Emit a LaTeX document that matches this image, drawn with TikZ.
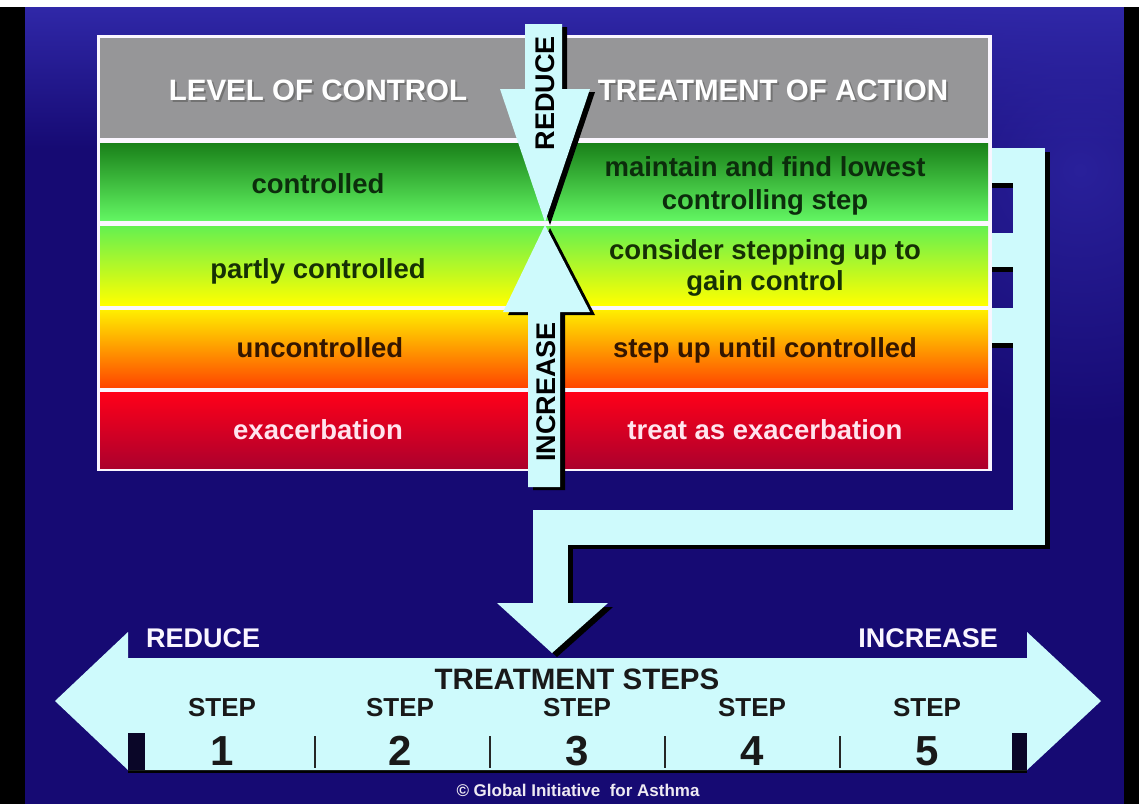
\documentclass[tikz,border=0pt]{standalone}
\usepackage{fontspec}
\usetikzlibrary{fadings}
\setmainfont{Liberation Sans}
\tikzfading[name=glowfade, inner color=transparent!25, outer color=transparent!100]
\begin{document}
\definecolor{navy}{RGB}{22,10,115}
\definecolor{navylight}{RGB}{48,40,168}
\definecolor{pale}{RGB}{206,250,252}
\definecolor{headgrey}{RGB}{150,150,152}
\definecolor{framewhite}{RGB}{250,246,255}
\definecolor{gTop}{RGB}{25,128,25}
\definecolor{gBot}{RGB}{98,245,98}
\definecolor{lTop}{RGB}{100,240,80}
\definecolor{lBot}{RGB}{255,255,0}
\definecolor{oTop}{RGB}{255,238,0}
\definecolor{oBot}{RGB}{255,70,0}
\definecolor{rTop}{RGB}{255,0,25}
\definecolor{rBot}{RGB}{172,0,45}
\definecolor{txtgreen}{RGB}{12,45,12}
\definecolor{txtolive}{RGB}{22,48,5}
\definecolor{txtbrown}{RGB}{52,22,0}
\definecolor{txtpink}{RGB}{255,228,238}
\definecolor{scalebar}{RGB}{10,6,40}
\begin{tikzpicture}[x=1pt,y=-1pt,
  rowtext/.style={font=\bfseries\fontsize{27.5}{31}\selectfont, anchor=base, inner sep=0pt},
  headtext/.style={font=\bfseries\fontsize{29.5}{32}\selectfont, anchor=base, inner sep=0pt},
  sidetext/.style={font=\bfseries\fontsize{27}{30}\selectfont, text=black, rotate=90, inner sep=0pt},
  steptext/.style={font=\bfseries\fontsize{26}{30}\selectfont, text=black!90, anchor=base, inner sep=0pt},
  numtext/.style={font=\bfseries\fontsize{42}{46}\selectfont, text=black!90, anchor=base, inner sep=0pt},
  labeltext/.style={font=\bfseries\fontsize{27}{30}\selectfont, text=framewhite, inner sep=0pt},
  paleshape/.style={fill=pale},
  shadowshape/.style={fill=black},
  divider/.style={draw=black!85, line width=2pt}]
\useasboundingbox (0,0) rectangle (1139,804);

% backdrop: navy with a lighter glow at the top and top right
\fill[navy] (0,0) rectangle (1139,804);
\begin{scope}
  \clip (0,7) rectangle (1139,804);
  \fill[navylight, path fading=glowfade] (1080,170) circle (260);
\end{scope}
\fill[navylight, path fading=south] (0,7) rectangle (1139,150);
\fill[white] (0,0) rectangle (1139,7);
\fill[black] (0,7) rectangle (25,804);
\fill[black] (1124,7) rectangle (1139,804);

% table frame and rows
\fill[framewhite] (97,35) rectangle (992,471);
\fill[headgrey] (100,38) rectangle (988,138);
\shade[top color=gTop, bottom color=gBot] (100,143) rectangle (988,220);
\shade[top color=lTop, bottom color=lBot] (100,226) rectangle (988,305);
\shade[top color=oTop, bottom color=oBot] (100,310) rectangle (988,387);
\shade[top color=rTop, bottom color=rBot] (100,392) rectangle (988,468);

% header captions with drop shadow
\node[headtext, text=black!55] at (320,102) {LEVEL OF CONTROL};
\node[headtext, text=white] (hl) at (318,100) {LEVEL OF CONTROL};
\node[headtext, text=black!55] at (775,102) {TREATMENT OF ACTION};
\node[headtext, text=white] (hr) at (773,100) {TREATMENT OF ACTION};

% level of control column
\node[rowtext, text=txtgreen] (c1) at (318,193) {controlled};
\node[rowtext, text=txtolive] (c2) at (318,278) {partly controlled};
\node[rowtext, text=txtbrown] (c3) at (320,357) {uncontrolled};
\node[rowtext, text=txtpink] (c4) at (318,439) {exacerbation};

% treatment column
\node[rowtext, text=txtgreen] (t1a) at (765,176) {maintain and find lowest};
\node[rowtext, text=txtgreen] (t1b) at (765,209) {controlling step};
\node[rowtext, text=txtolive] (t2a) at (765,259) {consider stepping up to};
\node[rowtext, text=txtolive] (t2b) at (765,290) {gain control};
\node[rowtext, text=txtbrown] (t3) at (765,357) {step up until controlled};
\node[rowtext, text=txtpink] (t4) at (765,439) {treat as exacerbation};

% central reduce / increase arrows
\begin{scope}[shift={(5,3)}]
  \fill[shadowshape] (525,24) -- (562,24) -- (562,89) -- (590,89) -- (545,222) -- (500,89) -- (525,89) -- cycle;
  \fill[shadowshape] (545,225) -- (590,312) -- (560,312) -- (560,487) -- (528,487) -- (528,312) -- (503,312) -- cycle;
\end{scope}
\fill[paleshape] (525,24) -- (562,24) -- (562,89) -- (590,89) -- (545,222) -- (500,89) -- (525,89) -- cycle;
\fill[paleshape] (545,225) -- (590,312) -- (560,312) -- (560,487) -- (528,487) -- (528,312) -- (503,312) -- cycle;
\node[sidetext] (red) at (545,93) {REDUCE};
\node[sidetext] (inc) at (546,392) {INCREASE};

% feedback bracket leading down to the steps
\begin{scope}[shift={(5,4)}]
  \fill[shadowshape] (1013,148) rectangle (1045,545);
  \fill[shadowshape] (533,510) rectangle (1045,545);
  \fill[shadowshape] (533,510) rectangle (568,603);
  \fill[shadowshape] (497,603) -- (608,603) -- (552,653) -- cycle;
\end{scope}
\fill[shadowshape] (992,183) rectangle (1013,188);
\fill[shadowshape] (992,267) rectangle (1013,272);
\fill[shadowshape] (992,343) rectangle (1013,348);
\fill[paleshape] (1013,148) rectangle (1045,545);
\fill[paleshape] (992,148) rectangle (1013,183);
\fill[paleshape] (992,233) rectangle (1013,267);
\fill[paleshape] (992,308) rectangle (1013,343);
\fill[paleshape] (533,510) rectangle (1045,545);
\fill[paleshape] (533,510) rectangle (568,603);
\fill[paleshape] (497,603) -- (608,603) -- (552,653) -- cycle;

% treatment steps double arrow
\fill[black] (128,770) rectangle (1027,773);
\fill[paleshape] (55,701) -- (128,632) -- (128,658) -- (1027,658) -- (1027,632) -- (1101,701) -- (1027,770) -- (128,770) -- cycle;
\fill[scalebar] (128,733) rectangle (145,770);
\fill[scalebar] (1012,733) rectangle (1027,770);
\coordinate (d1t) at (315,736); \coordinate (d1b) at (315,768);
\coordinate (d2t) at (490,736); \coordinate (d2b) at (490,768);
\coordinate (d3t) at (665,736); \coordinate (d3b) at (665,768);
\coordinate (d4t) at (840,736); \coordinate (d4b) at (840,768);
\draw[divider] (d1t) -- (d1b);
\draw[divider] (d2t) -- (d2b);
\draw[divider] (d3t) -- (d3b);
\draw[divider] (d4t) -- (d4b);

\node[labeltext, anchor=base west] (lred) at (146,647) {REDUCE};
\node[labeltext, anchor=base east] (linc) at (998,647) {INCREASE};
\node[headtext, text=black!90] (ts) at (577,689) {TREATMENT STEPS};

\node[steptext] (s1) at (222,716) {STEP};
\node[steptext] (s2) at (400,716) {STEP};
\node[steptext] (s3) at (577,716) {STEP};
\node[steptext] (s4) at (752,716) {STEP};
\node[steptext] (s5) at (927,716) {STEP};
\node[numtext] (n1) at (222,765) {1};
\node[numtext] (n2) at (400,765) {2};
\node[numtext] (n3) at (577,765) {3};
\node[numtext] (n4) at (752,765) {4};
\node[numtext] (n5) at (927,765) {5};

\node[font=\bfseries\fontsize{17}{20}\selectfont, text=framewhite!90!gray, anchor=base, inner sep=0pt] (copy) at (578,796) {© Global Initiative\ \ for Asthma};
\end{tikzpicture}
\end{document}
